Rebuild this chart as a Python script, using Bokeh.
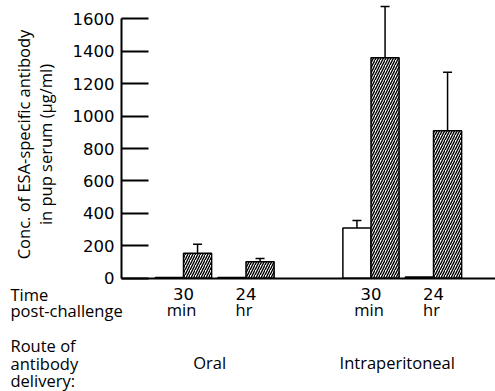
import math
from bokeh.plotting import figure
from bokeh.models import (ColumnDataSource, Range1d, FixedTicker, Whisker, TeeHead,
                          Label, LabelSet)
from bokeh.core.properties import value
from bokeh.embed import file_html
from bokeh.resources import INLINE

# ---- data ----
routes = ["Oral", "Oral", "Intraperitoneal", "Intraperitoneal"]
time_num = ["30", "24", "30", "24"]
time_unit = ["min", "hr", "min", "hr"]
open_vals = [5, 5, 310, 8]            # open (white) bars
open_err = [0, 0, 46, 0]
hatched_vals = [154, 101, 1360, 909]  # hatched bars
hatched_err = [56, 21, 316, 362]
y_ticks = [0, 200, 400, 600, 800, 1000, 1200, 1400, 1600]
y_title = ["Conc. of ESA-specific antibody", "in pup serum (\u03bcg/ml)"]
row_titles = ["Time", "post-challenge", "Route of", "antibody", "delivery:"]

# positions: one slot per time point, a wider gap between routes
group_names = list(dict.fromkeys(routes))
pos = []
within = {}
for r in routes:
    gi = group_names.index(r)
    ti = within.get(r, 0)
    within[r] = ti + 1
    pos.append(gi * 3 + ti)

BW = 0.45
src_open = ColumnDataSource(dict(
    x=[p_ - BW / 2 for p_ in pos], top=open_vals,
    upper=[v + e for v, e in zip(open_vals, open_err)]))
src_hat = ColumnDataSource(dict(
    x=[p_ + BW / 2 for p_ in pos], top=hatched_vals,
    upper=[v + e for v, e in zip(hatched_vals, hatched_err)]))
src_open_err = ColumnDataSource({k: [v for v, e in zip(src_open.data[k], open_err) if e > 0]
                                 for k in src_open.data})
src_hat_err = ColumnDataSource({k: [v for v, e in zip(src_hat.data[k], hatched_err) if e > 0]
                                for k in src_hat.data})
src_time = ColumnDataSource(dict(x=pos, num=time_num, unit=time_unit))
gx = [sum(pp for pp, r in zip(pos, routes) if r == g) / routes.count(g) for g in group_names]
src_group = ColumnDataSource(dict(x=gx, name=group_names))

W, H = 495, 391
AXIS_X = -0.992          # where the value axis stands (x units)
X0, X1 = -2.928, 4.992   # frame covers the whole canvas
Y0, Y1 = -699, 1713

WF = "Open Sans"
FS = "16.5px"

p = figure(width=W, height=H, output_backend="svg", toolbar_location=None,
           x_range=Range1d(X0, X1), y_range=Range1d(Y0, Y1),
           min_border_left=0, min_border_right=0, min_border_top=0, min_border_bottom=0)
p.grid.visible = False
p.outline_line_color = None
p.background_fill_color = "white"
p.border_fill_color = "white"

# y axis
ya = p.yaxis[0]
ya.fixed_location = AXIS_X
ya.ticker = FixedTicker(ticks=y_ticks)
ya.bounds = (0, 1600)
ya.axis_line_width = 2
ya.axis_line_color = "black"
ya.major_tick_in = 27
ya.major_tick_out = 0
ya.major_tick_line_width = 2
ya.major_tick_line_color = "black"
ya.minor_tick_line_color = None
ya.major_label_text_font = "DejaVu Sans"
ya.major_label_text_font_size = FS
ya.major_label_text_color = "black"
ya.major_label_standoff = 7

# x axis: only the base line
xa = p.xaxis[0]
xa.fixed_location = 0
xa.bounds = (AXIS_X, X1)
xa.ticker = FixedTicker(ticks=[])
xa.axis_line_width = 2
xa.axis_line_color = "black"
xa.major_tick_line_color = None
xa.major_tick_out = 0
xa.major_tick_in = 0
xa.minor_tick_line_color = None
xa.major_label_text_font_size = "0px"

# bars
p.vbar(x="x", top="top", bottom=0, width=BW, source=src_open,
       fill_color="white", line_color="black", line_width=1.5)
p.vbar(x="x", top="top", bottom=0, width=BW, source=src_hat,
       fill_color="white", hatch_pattern="/", hatch_color="black",
       hatch_scale=5, hatch_weight=1.4, line_color="black", line_width=1.5)

for s in (src_open_err, src_hat_err):
    p.add_layout(Whisker(source=s, base="x", lower="top", upper="upper", dimension="height",
                         line_width=1.5, line_color="black",
                         upper_head=TeeHead(size=9, line_width=1.5, line_color="black"),
                         lower_head=None))


def sy(page_y):
    # screen y measured up from the bottom of the canvas
    return H - page_y


p.add_layout(LabelSet(x="x", y=sy(299), y_units="screen", text="num", source=src_time,
                      text_align="center", text_baseline="alphabetic",
                      text_font=value("DejaVu Sans"),
                      text_font_size=value(FS), text_color="black"))
p.add_layout(LabelSet(x="x", y=sy(315), y_units="screen", text="unit", source=src_time,
                      x_offset=-2, text_align="center", text_baseline="alphabetic",
                      text_font=value(WF),
                      text_font_size=value(FS), text_color="black"))
p.add_layout(LabelSet(x="x", y=sy(368), y_units="screen", text="name", source=src_group,
                      x_offset=-5, text_align="center", text_baseline="alphabetic",
                      text_font=value(WF),
                      text_font_size=value(FS), text_color="black"))

for txt, yy in zip(row_titles, [294, 310, 345, 363, 380]):
    p.add_layout(Label(x=10, y=sy(yy), x_units="screen", y_units="screen", text=txt,
                       text_align="left", text_baseline="alphabetic",
                       text_font=WF, text_font_size=FS, text_color="black"))

# y axis title (two lines, rotated)
for txt, xx in zip(y_title, [23, 45]):
    p.add_layout(Label(x=xx, y=sy(144), x_units="screen", y_units="screen", text=txt,
                       angle=math.pi / 2, text_align="center", text_baseline="alphabetic",
                       text_font=WF, text_font_size=FS, text_color="black"))

open("out.html", "w").write(file_html(p, INLINE))
